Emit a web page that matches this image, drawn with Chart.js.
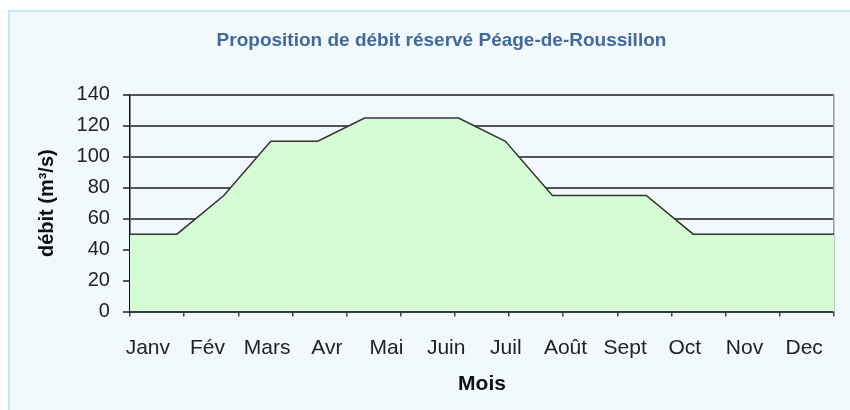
<!DOCTYPE html>
<html>
<head>
<meta charset="utf-8">
<title>Proposition de débit réservé Péage-de-Roussillon</title>
<script src="https://cdn.jsdelivr.net/npm/chart.js@4/dist/chart.umd.min.js"></script>
<style>
  html, body { margin: 0; padding: 0; background: #ffffff; }
  #frame {
    position: absolute; left: 8px; top: 10px; width: 860px; height: 420px;
    background: #f2f9fd; border-left: 2px solid #c6e7ee; border-top: 2px solid #c6e7ee;
  }
  #box { position: absolute; left: 0; top: 0; width: 850px; height: 410px; }
</style>
</head>
<body>
<div id="frame"></div>
<div id="box"><canvas id="myChart" width="850" height="410"></canvas></div>
<script>
'use strict';

// ----------------- data ----------------------------------------
var months = ['Janv', 'Fév', 'Mars', 'Avr', 'Mai', 'Juin', 'Juil', 'Août', 'Sept', 'Oct', 'Nov', 'Dec'];
// débit réservé (m3/s), one value per step of the curve
var debit = [50, 50, 75, 110, 110, 125, 125, 125, 110, 75, 75, 75, 50, 50, 50, 50];
var yTicks = [0, 20, 40, 60, 80, 100, 120, 140];

var steps = [];
for (var i = 0; i < debit.length; i++) {
  steps.push(String(i));
}

Chart.defaults.font.family = "'Liberation Sans', Arial, sans-serif";
Chart.defaults.color = '#222';

var ctx = document.getElementById('myChart').getContext('2d');
var chart = new Chart(ctx, {
  type: 'line',
  data: {
    labels: steps,
    datasets: [
      {
        label: 'débit',
        data: debit,
        xAxisID: 'xd',
        yAxisID: 'y',
        fill: 'origin',
        backgroundColor: '#d5fcd5',
        borderColor: '#333333',
        borderWidth: 1.5,
        tension: 0,
        pointRadius: 0,
      },
    ],
  },
  options: {
    responsive: false,
    animation: false,
    events: [],
    layout: { padding: { left: 35, right: 2, top: 10, bottom: 9 } },
    plugins: {
      legend: { display: false },
      tooltip: { enabled: false },
      title: {
        display: true,
        text: 'Proposition de débit réservé Péage-de-Roussillon',
        color: '#41699c',
        font: { size: 19, weight: 'bold' },
        padding: { top: 19, bottom: 43 },
      },
    },
    scales: {
      // hidden axis that spreads the curve steps over the plot
      xd: {
        type: 'category',
        display: false,
        offset: false,
      },
      // tick marks under the plot
      xt: {
        type: 'linear',
        position: 'bottom',
        weight: 0,
        min: 0,
        max: 13,
        ticks: { display: false, stepSize: 1 },
        grid: { drawOnChartArea: false, drawTicks: true, tickLength: 5, color: '#444', lineWidth: 1.5 },
        border: { display: true, color: '#222', width: 1.5 },
      },
      // month labels
      xm: {
        type: 'linear',
        position: 'bottom',
        weight: 1,
        min: 0.2,
        max: 12,
        afterBuildTicks: function (scale) {
          scale.ticks = months.map(function (m, k) {
            return { value: k + 0.5 };
          });
        },
        afterFit: function (scale) {
          scale.paddingLeft = 0;
          scale.paddingRight = 0;
        },
        ticks: {
          padding: 11,
          font: { size: 21 },
          color: '#222',
          maxRotation: 0,
          autoSkip: false,
          callback: function (value, index) {
            return months[index];
          },
        },
        grid: { display: false },
        border: { display: false },
        title: {
          display: true,
          text: 'Mois',
          color: '#111',
          font: { size: 21, weight: 'bold' },
          padding: { top: 0, bottom: 4 },
        },
      },
      y: {
        type: 'linear',
        position: 'left',
        min: 0,
        max: 140,
        afterBuildTicks: function (scale) {
          scale.ticks = yTicks.map(function (v) {
            return { value: v };
          });
        },
        ticks: { padding: 13, font: { size: 20 }, color: '#222' },
        grid: { color: '#555', lineWidth: 2, tickLength: 7, drawTicks: true },
        border: { display: true, color: '#111', width: 1.5 },
        title: {
          display: true,
          text: 'débit (m³/s)',
          color: '#111',
          font: { size: 20, weight: 'bold' },
          padding: { top: 0, bottom: 4.6 },
        },
      },
      // right edge of the plot box
      yr: {
        type: 'linear',
        position: 'right',
        min: 0,
        max: 140,
        ticks: { display: false },
        grid: { display: false },
        border: { display: true, color: '#9a9a9a', width: 1.5 },
        afterFit: function (scale) {
          scale.width = 14;
        },
      },
    },
  },
});
</script>
</body>
</html>
